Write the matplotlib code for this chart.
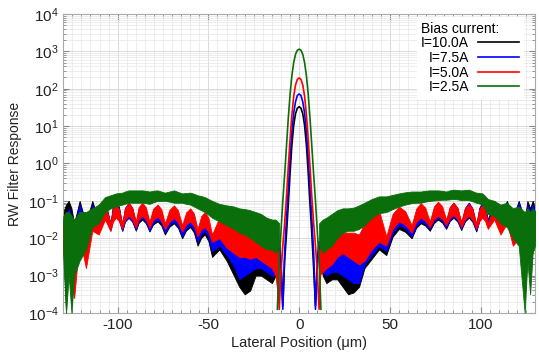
import numpy as np
import matplotlib
matplotlib.use("Agg")
import matplotlib.pyplot as plt
from matplotlib.ticker import FixedLocator, MultipleLocator, NullFormatter, LogFormatterSciNotation

plt.rcParams['font.family'] = ['Liberation Sans', 'DejaVu Sans']
plt.rcParams['mathtext.default'] = 'regular'
plt.rcParams['axes.unicode_minus'] = False

# legend labels / colours
labels = ['I=10.0A', 'I=7.5A', 'I=5.0A', 'I=2.5A']
colors = ['#000000', '#0000ff', '#ff0000', '#0a6e0a']
x_ticks = [-100, -50, 0, 50, 100]
y_decades = [-4, -3, -2, -1, 0, 1, 2, 3, 4]

# central lobe (log10 of response)
x_peak = [-12, -11, -10, -9, -8, -7, -6, -5, -4, -3, -2, -1, 0,
          1, 2, 3, 4, 5, 6, 7, 8, 9, 10, 11, 12]
peak_black = [-2.3, -2.1, -2.6, -3.8, -2.6, -1.9, -1.1, -0.25, 0.5, 1.02, 1.33, 1.48, 1.52,
              1.48, 1.33, 1.02, 0.5, -0.25, -1.1, -1.9, -2.8, -3.8, -2.6, -2.1, -2.3]
peak_blue = [-2.3, -2.1, -2.8, -3.9, -2.4, -1.5, -0.7, 0.15, 0.85, 1.35, 1.65, 1.82, 1.86,
             1.82, 1.65, 1.35, 0.85, 0.15, -0.7, -1.5, -2.4, -3.9, -2.8, -2.1, -2.3]
peak_red = [-2.6, -3.9, -2.9, -2.2, -1.6, -0.9, -0.1, 0.65, 1.3, 1.8, 2.1, 2.25, 2.29,
            2.25, 2.1, 1.8, 1.3, 0.65, -0.1, -0.9, -1.6, -2.2, -2.9, -3.9, -2.6]
peak_green = [-3.9, -2.6, -1.8, -1.0, -0.3, 0.45, 1.2, 1.85, 2.35, 2.7, 2.92, 3.03, 3.06,
              3.03, 2.92, 2.7, 2.35, 1.85, 1.2, 0.45, -0.3, -1.0, -1.8, -2.6, -3.9]

# side lobes: the fast ripple shows as a band, kept as lower / upper envelope (log10)
x_left = [-130, -128.5, -127, -125.5, -124, -121, -117.5, -114, -110.5, -107, -104,
          -102.7, -101, -99.3, -97.5, -96, -94, -92, -90, -88.5, -86.5, -84.5, -82.5,
          -80.5, -78, -76, -74, -71.5, -69, -66.8, -64.5, -62.3, -60, -58, -56, -54, -52,
          -50, -48, -44, -40, -36, -33, -30, -27, -24, -21, -18, -15, -13, -11]
black_left_lo = [-2.0, -4.0, -2.0, -3.5, -2.8, -1.7, -1.9, -1.5, -1.75, -1.4, -1.75,
                 -1.5, -1.4, -1.52, -1.8, -1.55, -1.45, -1.55, -1.8, -1.59, -1.5, -1.6, -1.82,
                 -1.63, -1.55, -1.66, -1.9, -1.69, -1.6, -1.72, -2.0, -1.79, -1.7, -1.85, -2.2, -1.99, -1.9,
                 -2.08, -2.5, -2.3, -2.6, -3.0, -3.3, -3.5, -3.4, -3.0, -3.0, -3.1, -3.2, -3.0, -2.5]
black_left_hi = [-1.3, -1.1, -1.0, -1.2, -1.6, -1.0, -1.6, -1.0, -1.55, -1.0, -1.6,
                 -1.15, -1.0, -1.16, -1.65, -1.2, -1.05, -1.2, -1.65, -1.24, -1.1, -1.25, -1.7,
                 -1.29, -1.15, -1.3, -1.75, -1.38, -1.25, -1.4, -1.85, -1.48, -1.35, -1.51, -2.0, -1.63, -1.5,
                 -1.7, -2.3, -1.7, -1.9, -2.1, -2.3, -2.4, -2.4, -2.3, -2.2, -2.2, -2.3, -2.3, -2.1]
blue_left_lo = [-2.2, -3.5, -2.2, -3.8, -3.0, -1.8, -2.0, -1.6, -1.8, -1.45, -1.8,
                -1.52, -1.4, -1.52, -1.8, -1.55, -1.45, -1.55, -1.78, -1.55, -1.45, -1.56, -1.8,
                -1.59, -1.5, -1.6, -1.85, -1.64, -1.55, -1.67, -1.95, -1.74, -1.65, -1.78, -2.1, -1.89, -1.8,
                -1.97, -2.35, -2.2, -2.45, -2.75, -3.1, -3.0, -2.9, -2.8, -2.8, -2.9, -3.0, -3.0, -2.6]
blue_left_hi = [-1.5, -1.4, -1.2, -1.4, -1.7, -1.1, -1.7, -1.1, -1.6, -1.05, -1.65,
                -1.2, -1.05, -1.2, -1.65, -1.2, -1.05, -1.19, -1.6, -1.22, -1.1, -1.24, -1.65,
                -1.28, -1.15, -1.29, -1.7, -1.33, -1.2, -1.35, -1.8, -1.43, -1.3, -1.45, -1.9, -1.56, -1.45,
                -1.61, -2.1, -1.6, -1.8, -2.0, -2.2, -2.3, -2.3, -2.2, -2.1, -2.1, -2.2, -2.2, -2.1]
red_left_lo = [-2.4, -3.0, -2.5, -3.0, -3.6, -2.0, -2.8, -1.8, -1.9, -1.5, -1.8,
               -1.56, -1.45, -1.54, -1.75, -1.5, -1.4, -1.5, -1.72, -1.5, -1.4, -1.5, -1.72,
               -1.51, -1.42, -1.54, -1.75, -1.56, -1.45, -1.58, -1.82, -1.63, -1.55, -1.67, -1.95, -1.77, -1.7,
               -1.83, -2.1, -2.0, -2.25, -2.4, -2.5, -2.5, -2.55, -2.5, -2.6, -2.7, -2.8, -3.0, -3.9]
red_left_hi = [-1.6, -1.6, -1.5, -1.6, -1.8, -1.3, -1.8, -1.2, -1.65, -1.1, -1.6,
               -1.22, -1.1, -1.22, -1.6, -1.19, -1.05, -1.18, -1.55, -1.17, -1.05, -1.17, -1.55,
               -1.21, -1.1, -1.22, -1.6, -1.24, -1.12, -1.25, -1.65, -1.31, -1.2, -1.34, -1.75, -1.41, -1.3,
               -1.45, -1.9, -1.45, -1.55, -1.65, -1.75, -1.8, -1.85, -1.9, -1.9, -1.95, -2.0, -2.1, -2.5]
green_left_lo = [-2.5, -4.0, -3.0, -4.0, -3.0, -2.6, -2.3, -1.7, -1.6, -1.3, -1.2,
                 -1.18, -1.15, -1.12, -1.1, -1.08, -1.05, -1.05, -1.05, -1.05, -1.05, -1.06, -1.08,
                 -1.04, -1.0, -1.0, -1.0, -1.02, -1.05, -1.05, -1.05, -1.08, -1.1, -1.15, -1.2, -1.25, -1.3,
                 -1.37, -1.45, -1.55, -1.65, -1.75, -1.85, -1.9, -2.0, -2.1, -2.2, -2.3, -2.3, -2.4, -2.2]
green_left_hi = [-1.4, -1.3, -1.3, -1.4, -1.5, -1.3, -1.3, -1.2, -1.1, -0.9, -0.85,
                 -0.83, -0.8, -0.79, -0.78, -0.75, -0.72, -0.72, -0.72, -0.72, -0.72, -0.73, -0.75,
                 -0.73, -0.72, -0.75, -0.78, -0.75, -0.72, -0.76, -0.8, -0.79, -0.78, -0.81, -0.85, -0.87, -0.9,
                 -0.95, -1.0, -1.08, -1.12, -1.15, -1.2, -1.22, -1.25, -1.3, -1.35, -1.45, -1.5, -1.5, -1.6]

x_right = [11, 13, 15, 18, 21, 24, 27, 30, 33, 36, 40, 44, 48, 51.5, 55, 58.5, 62, 64.5,
           67, 69.5, 72, 74.3, 76.5, 78.8, 81, 83, 85, 87.2, 89.3, 91.4, 93.5, 95.5, 97.6,
           99.3, 101, 102.5, 104, 107.5, 111, 114.5, 117.8, 121, 124.3, 125.8, 127.3, 128.7, 130]
black_right_lo = [-2.5, -3.0, -3.2, -3.1, -3.1, -3.3, -3.5, -3.45, -3.3, -2.8, -2.55, -2.3,
                  -2.45, -1.96, -1.75, -1.83, -2.0, -1.72, -1.6, -1.66, -1.8, -1.59, -1.5, -1.58,
                  -1.75, -1.54, -1.45, -1.55, -1.78, -1.55, -1.45, -1.56, -1.82, -1.53, -1.4,
                  -1.48, -1.65, -1.35, -1.5, -1.3, -1.6, -1.4, -1.9, -1.5, -2.0, -1.6, -1.8]
black_right_hi = [-2.1, -2.2, -2.2, -2.2, -2.25, -2.3, -2.4, -2.4, -2.5, -2.0, -1.75, -1.6,
                  -2.3, -1.55, -1.3, -1.44, -1.85, -1.36, -1.2, -1.33, -1.7, -1.25, -1.1, -1.24,
                  -1.65, -1.2, -1.05, -1.2, -1.65, -1.2, -1.05, -1.21, -1.7, -1.19, -1.02,
                  -1.14, -1.5, -1.0, -1.4, -1.0, -1.45, -1.0, -1.5, -1.0, -1.2, -1.0, -1.2]
blue_right_lo = [-2.6, -2.9, -3.0, -2.9, -2.9, -3.0, -3.1, -3.2, -3.2, -2.7, -2.45, -2.2,
                 -2.35, -1.86, -1.65, -1.74, -1.95, -1.67, -1.55, -1.61, -1.75, -1.54, -1.45, -1.53,
                 -1.72, -1.51, -1.42, -1.52, -1.75, -1.52, -1.42, -1.53, -1.8, -1.53, -1.42,
                 -1.5, -1.7, -1.4, -1.6, -1.35, -1.8, -1.5, -3.6, -2.5, -3.0, -2.2, -2.0]
blue_right_hi = [-2.1, -2.1, -2.1, -2.05, -2.1, -2.2, -2.25, -2.3, -2.4, -1.85, -1.6, -1.5,
                 -2.2, -1.49, -1.25, -1.39, -1.8, -1.31, -1.15, -1.28, -1.65, -1.24, -1.1, -1.23,
                 -1.6, -1.19, -1.05, -1.19, -1.6, -1.19, -1.05, -1.2, -1.65, -1.2, -1.05,
                 -1.18, -1.55, -1.05, -1.45, -1.05, -1.5, -1.05, -1.6, -1.1, -1.3, -1.1, -1.3]
red_right_lo = [-3.0, -2.9, -2.8, -2.7, -2.5, -2.4, -2.5, -2.6, -2.7, -2.6, -2.3, -2.1,
                -2.2, -1.75, -1.55, -1.64, -1.85, -1.57, -1.45, -1.53, -1.7, -1.49, -1.4, -1.48,
                -1.65, -1.46, -1.38, -1.48, -1.7, -1.49, -1.4, -1.51, -1.75, -1.54, -1.45,
                -1.54, -1.75, -1.5, -1.9, -1.6, -2.2, -2.0, -3.3, -2.4, -2.6, -2.2, -2.0]
red_right_hi = [-2.3, -2.0, -1.95, -1.9, -1.85, -1.85, -1.85, -1.85, -1.9, -1.6, -1.35, -1.25,
                -1.95, -1.35, -1.15, -1.28, -1.65, -1.21, -1.06, -1.18, -1.55, -1.15, -1.02, -1.14,
                -1.5, -1.16, -1.05, -1.18, -1.55, -1.2, -1.08, -1.21, -1.6, -1.23, -1.1,
                -1.23, -1.6, -1.15, -1.6, -1.2, -1.6, -1.2, -1.7, -1.3, -1.4, -1.3, -1.4]
green_right_lo = [-2.2, -2.4, -2.3, -2.2, -2.0, -1.85, -1.8, -1.8, -1.75, -1.65, -1.45, -1.33,
                  -1.3, -1.22, -1.15, -1.1, -1.06, -1.05, -1.05, -1.02, -1.0, -0.99, -0.98, -0.97,
                  -0.97, -0.96, -0.95, -0.96, -0.98, -0.98, -0.98, -1.01, -1.05, -1.07, -1.1,
                  -1.22, -1.35, -1.4, -1.6, -1.7, -2.0, -2.2, -4.0, -2.6, -3.5, -2.4, -2.2]
green_right_hi = [-1.6, -1.5, -1.45, -1.35, -1.25, -1.2, -1.2, -1.18, -1.12, -1.05, -0.95, -0.88,
                  -0.88, -0.84, -0.8, -0.77, -0.75, -0.75, -0.75, -0.73, -0.72, -0.72, -0.72, -0.73,
                  -0.75, -0.72, -0.7, -0.71, -0.72, -0.71, -0.7, -0.74, -0.78, -0.79, -0.8,
                  -0.87, -0.95, -1.0, -1.1, -1.05, -1.2, -1.15, -1.3, -1.2, -1.3, -1.2, -1.3]

peaks = [peak_black, peak_blue, peak_red, peak_green]
bands_left = [(black_left_lo, black_left_hi), (blue_left_lo, blue_left_hi),
              (red_left_lo, red_left_hi), (green_left_lo, green_left_hi)]
bands_right = [(black_right_lo, black_right_hi), (blue_right_lo, blue_right_hi),
               (red_right_lo, red_right_hi), (green_right_lo, green_right_hi)]

fig = plt.figure(figsize=(5.39, 3.58), dpi=100)
ax = fig.add_axes([0.1174, 0.1257, 0.8752, 0.8352])

for i, c in enumerate(colors):
    for xs, (lo, hi) in ((x_left, bands_left[i]), (x_right, bands_right[i])):
        ax.fill_between(xs, 10.0 ** np.array(lo), 10.0 ** np.array(hi),
                        facecolor=c, edgecolor=c, linewidth=0.6, zorder=2 + i)
    ax.plot(x_peak, 10.0 ** np.array(peaks[i]), color=c, lw=1.2, zorder=2 + i,
            label=labels[i])

ax.set_yscale('log')
ax.set_ylim(1e-4, 1e4)
ax.set_xlim(-130, 130)
ax.xaxis.set_major_locator(FixedLocator(x_ticks))
ax.xaxis.set_minor_locator(MultipleLocator(5))

# only decades inside the axis range, so no label sits outside the figure
y_major = [10.0 ** d for d in y_decades]
y_minor = [m * 10.0 ** d for d in y_decades[:-1] for m in range(2, 10)]
ax.yaxis.set_major_locator(FixedLocator(y_major))
ax.yaxis.set_major_formatter(LogFormatterSciNotation())
ax.yaxis.set_minor_locator(FixedLocator(y_minor))
ax.yaxis.set_minor_formatter(NullFormatter())

ax.grid(which='major', color='#d4d4d4', lw=0.6)
ax.grid(which='minor', color='#e6e6e6', lw=0.5)
ax.set_axisbelow(True)
ax.tick_params(which='both', direction='in', top=True, right=True, colors='#888888',
               labelcolor='#222222', labelsize=11)
ax.tick_params(which='major', length=4)
ax.tick_params(which='minor', length=2)
for s in ax.spines.values():
    s.set_color('#aaaaaa')
    s.set_linewidth(0.8)

ax.set_xlabel('Lateral Position (μm)', fontsize=10.5, color='#222222', labelpad=3)
ax.set_ylabel('RW Filter Response', fontsize=10, color='#222222')

leg = ax.legend(title='Bias current:', loc='upper right', bbox_to_anchor=(0.99, 1.012),
                markerfirst=False, alignment='left', fontsize=10, title_fontsize=10,
                handlelength=3.0, handletextpad=0.6, labelspacing=0.05, borderpad=0.3,
                frameon=True, fancybox=False, framealpha=1.0, edgecolor='white')
leg.set_zorder(10)

fig.savefig('out.png', dpi=100)
